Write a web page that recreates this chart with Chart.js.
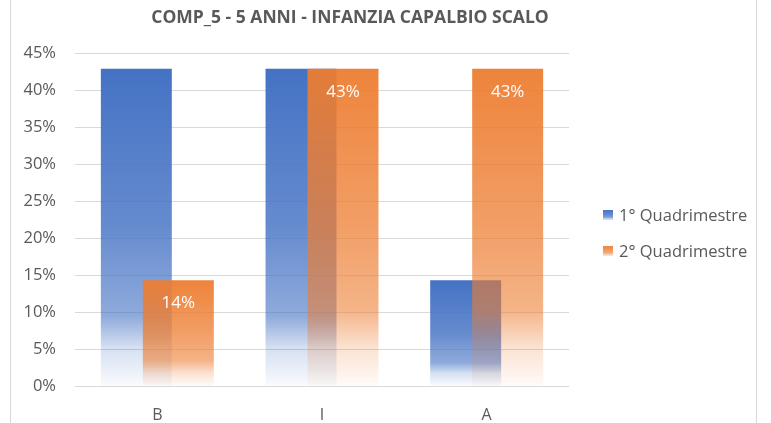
<!DOCTYPE html>
<html>
<head>
<meta charset="utf-8">
<script src="https://cdn.jsdelivr.net/npm/chart.js@4/dist/chart.umd.min.js"></script>
<style>
  html, body { margin: 0; padding: 0; background: #fff; }
  #wrap { position: relative; width: 771px; height: 423px; overflow: hidden; }
  #frame { position: absolute; left: 10px; top: -2px; width: 747px; height: 440px;
           border: 1px solid #d9d9d9; box-sizing: border-box; pointer-events: none; }
  canvas { display: block; }
</style>
</head>
<body>
<div id="wrap">
  <canvas id="chart" width="771" height="423"></canvas>
  <div id="frame"></div>
</div>
<script>
// Categories and values (percent of children per level)
const categories = ['B', 'I', 'A'];
const firstTerm = [42.86, 42.86, 14.29];
const secondTerm = [14.29, 42.86, 42.86];
const seriesNames = ['1° Quadrimestre', '2° Quadrimestre'];
const chartTitle = 'COMP_5 - 5 ANNI - INFANZIA CAPALBIO SCALO';

const BLUE = '68,114,196';
const ORANGE = '237,125,49';
const blueStops = [[0, 1], [0.5, 0.82], [0.78, 0.6], [0.88, 0.22], [1, 0.03]];
const orangeStops = [[0, 0.95], [0.5, 0.74], [0.76, 0.58], [0.88, 0.22], [1, 0.03]];
const FONT = '"Open Sans", "DejaVu Sans", sans-serif';
const TEXT = '#595959';

// Vertical fade from the bar top down to its base
function barFill(rgb, stops) {
  return (ctx) => {
    const chart = ctx.chart;
    if (!chart.chartArea || ctx.type !== 'data') return `rgb(${rgb})`;
    const y = chart.scales.y;
    const top = y.getPixelForValue(ctx.raw);
    const base = y.getPixelForValue(0);
    const g = chart.ctx.createLinearGradient(0, top, 0, base);
    stops.forEach(([o, a]) => g.addColorStop(o, `rgba(${rgb},${a})`));
    return g;
  };
}

// Second series drawn over the first one
const drawOrder = {
  id: 'drawOrder',
  beforeDatasetsDraw(chart) {
    const metas = chart.getSortedVisibleDatasetMetas().slice().sort((a, b) => a.index - b.index);
    metas.forEach(m => m.controller.draw());
    return false;
  }
};

// Title, value labels of the second series and the legend
const decorations = {
  id: 'decorations',
  afterDraw(chart) {
    const c = chart.ctx;
    c.save();
    c.fillStyle = TEXT;
    c.font = `bold 17.5px ${FONT}`;
    c.textAlign = 'center';
    c.textBaseline = 'middle';
    c.fillText(chartTitle, 350, 18);

    const meta = chart.getDatasetMeta(1);
    c.fillStyle = '#ffffff';
    c.font = `17px ${FONT}`;
    meta.data.forEach((el, i) => {
      c.fillText(Math.round(secondTerm[i]) + '%', el.x, el.y + 23);
    });

    const items = [[BLUE, blueStops], [ORANGE, orangeStops]];
    c.textAlign = 'left';
    items.forEach(([rgb, stops], i) => {
      const cy = 215 + i * 36;
      const g = c.createLinearGradient(0, cy - 5, 0, cy + 5);
      stops.forEach(([o, a]) => g.addColorStop(o, `rgba(${rgb},${Math.max(a, 0.25)})`));
      c.fillStyle = g;
      c.fillRect(603, cy - 5, 10, 10);
      c.fillStyle = TEXT;
      c.font = `16.5px ${FONT}`;
      c.fillText(seriesNames[i], 619, cy + 1);
    });
    c.restore();
  }
};

new Chart(document.getElementById('chart'), {
  type: 'bar',
  data: {
    labels: categories,
    datasets: [
      { label: seriesNames[0], data: firstTerm, backgroundColor: barFill(BLUE, blueStops) },
      { label: seriesNames[1], data: secondTerm, backgroundColor: barFill(ORANGE, orangeStops) }
    ]
  },
  options: {
    responsive: false,
    animation: false,
    categoryPercentage: 0.51,
    barPercentage: 1.69,
    layout: { padding: { top: 53, right: 202, left: 0, bottom: 0 } },
    plugins: { legend: { display: false }, title: { display: false }, tooltip: { enabled: false } },
    scales: {
      x: {
        grid: { display: false },
        border: { display: false },
        ticks: { color: TEXT, font: { family: FONT, size: 16 }, padding: 12 },
        afterFit(s) { s.height = 37; }
      },
      y: {
        min: 0, max: 45,
        grid: { color: '#d9d9d9', drawTicks: false },
        border: { display: false },
        ticks: { stepSize: 5, color: TEXT, font: { family: FONT, size: 16.5 }, padding: 19,
                 callback: v => v + '%' },
        afterFit(s) { s.width = 75; }
      }
    }
  },
  plugins: [drawOrder, decorations]
});
</script>
</body>
</html>
